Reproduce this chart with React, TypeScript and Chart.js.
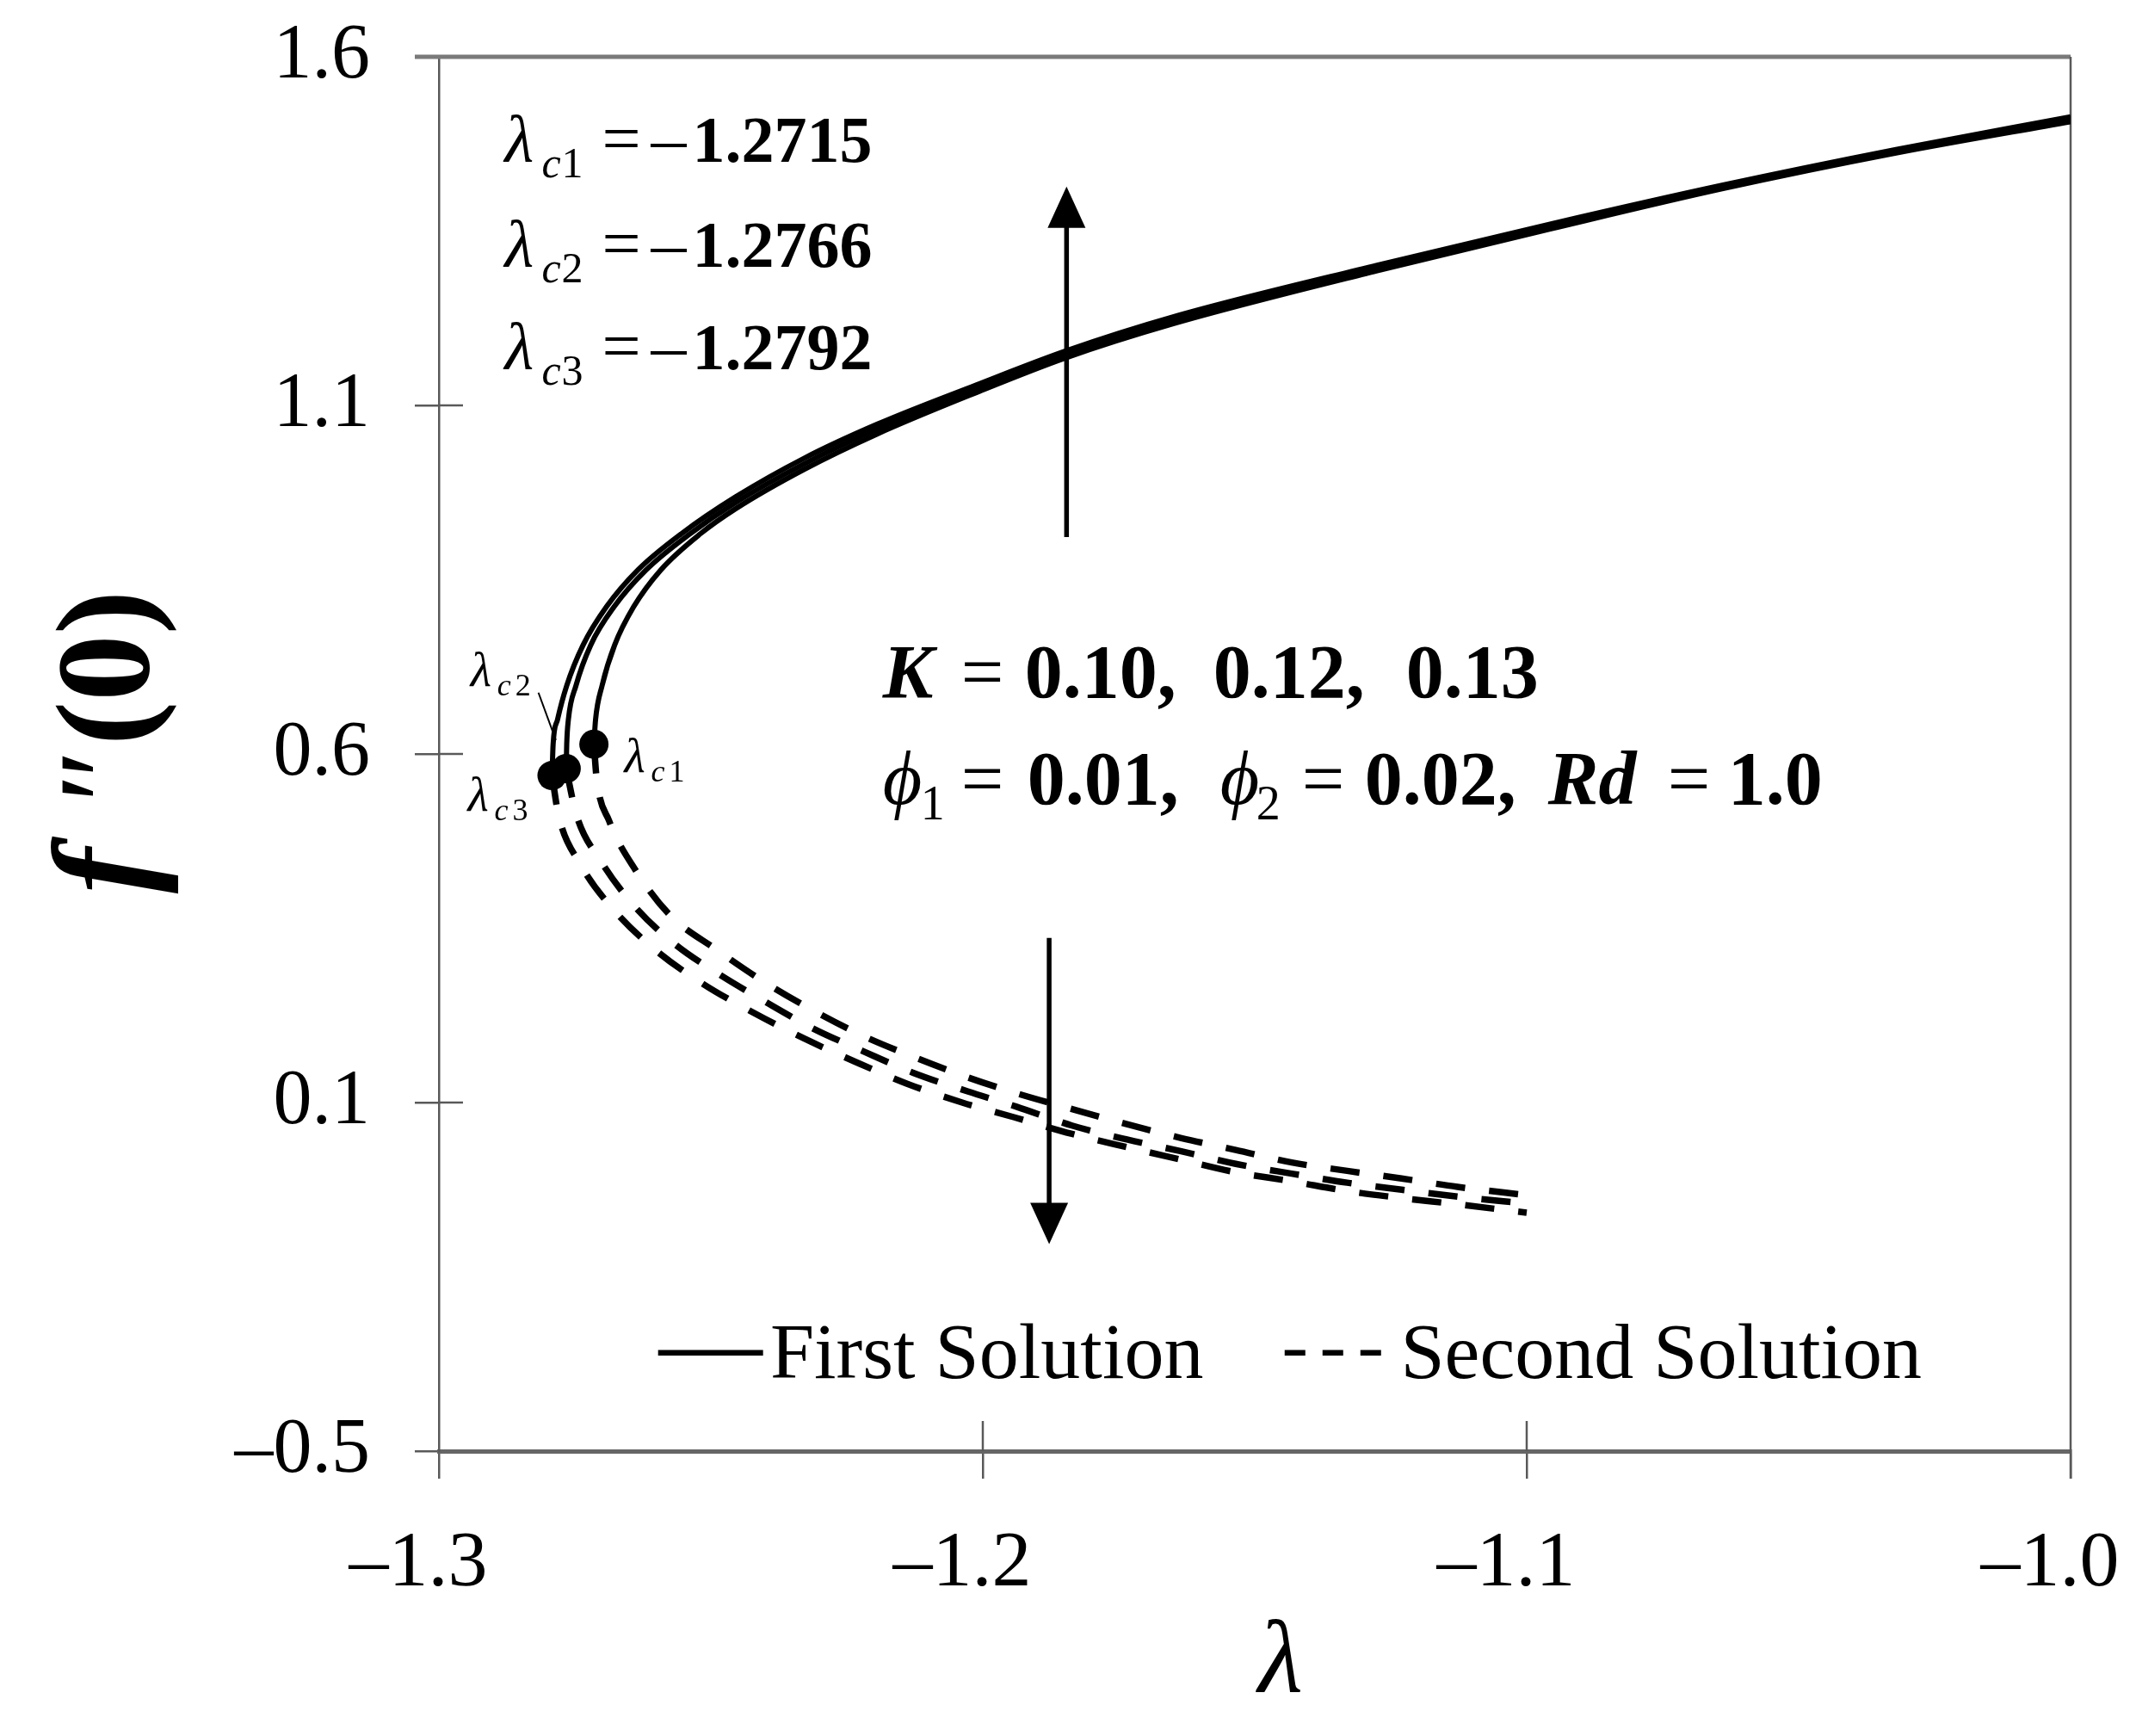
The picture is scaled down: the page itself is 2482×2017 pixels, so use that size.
import { useEffect, useRef } from 'react'
import { Chart, registerables } from 'chart.js'

Chart.register(...registerables)

const SERIF = "'Liberation Serif', 'Times New Roman', serif"

// critical points
const LAMBDA_C = [-1.2715, -1.2766, -1.2792]
const F_C = [0.614, 0.579, 0.569]
const K_VALUES = ['0.10', '0.12', '0.13']

// first solution (upper branch)
const first1Lambda = [-1.2715, -1.2712, -1.27, -1.2677, -1.2642, -1.2592, -1.2519, -1.2454, -1.2329, -1.2194, -1.2013, -1.1848, -1.165, -1.1275, -1.0957, -1.0639, -1.0321, -1.0]
const first1F = [0.614, 0.649, 0.698, 0.756, 0.811, 0.864, 0.916, 0.952, 1.008, 1.059, 1.118, 1.168, 1.217, 1.293, 1.353, 1.411, 1.462, 1.507]
const first2Lambda = [-1.2766, -1.2765, -1.2762, -1.2748, -1.2721, -1.2678, -1.2619, -1.2538, -1.2454, -1.2329, -1.2194, -1.2013, -1.1848, -1.165, -1.1275, -1.0957, -1.0639, -1.0321, -1.0]
const first2F = [0.579, 0.614, 0.649, 0.698, 0.756, 0.811, 0.864, 0.916, 0.961, 1.016, 1.066, 1.123, 1.172, 1.222, 1.297, 1.357, 1.414, 1.465, 1.512]
const first3Lambda = [-1.2792, -1.279, -1.2782, -1.2765, -1.2735, -1.2692, -1.2634, -1.2554, -1.2454, -1.2329, -1.2194, -1.2013, -1.1848, -1.165, -1.1275, -1.0957, -1.0639, -1.0321, -1.0]
const first3F = [0.569, 0.614, 0.649, 0.698, 0.756, 0.811, 0.864, 0.916, 0.969, 1.024, 1.073, 1.129, 1.178, 1.227, 1.301, 1.36, 1.416, 1.467, 1.514]

// second solution (lower branch)
const second1Lambda = [-1.2715, -1.271, -1.2687, -1.2639, -1.2574, -1.2489, -1.2404, -1.2314, -1.2221, -1.2129, -1.2031, -1.1941, -1.1833, -1.1735, -1.1635, -1.1535, -1.1432, -1.133, -1.123, -1.1127, -1.1]
const second1F = [0.614, 0.565, 0.504, 0.434, 0.368, 0.319, 0.274, 0.233, 0.196, 0.166, 0.137, 0.114, 0.09, 0.069, 0.049, 0.032, 0.014, 0.002, -0.009, -0.021, -0.033]
const second2Lambda = [-1.2766, -1.2747, -1.2702, -1.2642, -1.2569, -1.2489, -1.2401, -1.2314, -1.2221, -1.2129, -1.2028, -1.1938, -1.1836, -1.1735, -1.1635, -1.1535, -1.1432, -1.133, -1.123, -1.1127, -1.1]
const second2F = [0.579, 0.512, 0.446, 0.383, 0.329, 0.286, 0.245, 0.207, 0.174, 0.143, 0.116, 0.094, 0.067, 0.047, 0.03, 0.012, -0.002, -0.015, -0.025, -0.035, -0.045]
const second3Lambda = [-1.2792, -1.278, -1.274, -1.2677, -1.2599, -1.2514, -1.2422, -1.2329, -1.2236, -1.2139, -1.2038, -1.1943, -1.1836, -1.1735, -1.1635, -1.1535, -1.1432, -1.133, -1.123, -1.1127, -1.1]
const second3F = [0.569, 0.512, 0.442, 0.375, 0.317, 0.27, 0.229, 0.192, 0.159, 0.127, 0.1, 0.079, 0.055, 0.036, 0.018, 0.0, -0.013, -0.027, -0.037, -0.046, -0.058]

const X_TICKS = [-1.3, -1.2, -1.1, -1.0]
const X_LABELS = ['–1.3', '–1.2', '–1.1', '–1.0']
const Y_TICKS = [-0.4, 0.1, 0.6, 1.1, 1.6]
const Y_LABELS = ['–0.5', '0.1', '0.6', '1.1', '1.6']

const pts = (l: number[], f: number[]) => l.map((x, i) => ({ x, y: f[i] }))
const font = (style: string, size: number) => `${style} ${size}px ${SERIF}`
const labelFor = (ticks: number[], labels: string[], v: number) =>
  labels[ticks.findIndex(t => Math.abs(t - v) < 1e-6)] ?? ''

type Part = { t: string; f: string; dx: number; dy?: number }
function drawParts(ctx: CanvasRenderingContext2D, x: number, y: number, parts: Part[]) {
  parts.forEach(p => {
    ctx.font = p.f
    ctx.fillText(p.t, x + p.dx, y + (p.dy || 0))
  })
}

function arrow(ctx: CanvasRenderingContext2D, x: number, y0: number, y1: number) {
  const dir = Math.sign(y1 - y0)
  ctx.beginPath()
  ctx.moveTo(x, y0)
  ctx.lineTo(x, y1 - dir * 40)
  ctx.stroke()
  ctx.beginPath()
  ctx.moveTo(x, y1)
  ctx.lineTo(x - 22, y1 - dir * 48)
  ctx.lineTo(x + 22, y1 - dir * 48)
  ctx.closePath()
  ctx.fill()
}

const framePlugin = {
  id: 'frame',
  beforeDatasetsDraw(chart: any) {
    const { ctx, chartArea: a, scales } = chart
    const line = (x0: number, y0: number, x1: number, y1: number) => {
      ctx.beginPath(); ctx.moveTo(x0, y0); ctx.lineTo(x1, y1); ctx.stroke()
    }
    ctx.save()
    ctx.strokeStyle = '#7a7a7a'
    ctx.lineWidth = 5
    line(a.left - 28, a.top, a.right, a.top)
    ctx.strokeStyle = '#595959'
    ctx.lineWidth = 2.5
    line(a.right, a.top, a.right, a.bottom + 32)
    Y_TICKS.slice(1, -1).forEach(v => {
      const py = scales.y.getPixelForValue(v)
      line(a.left, py, a.left + 28, py)
    })
    X_TICKS.slice(1, -1).forEach(l => {
      const px = scales.x.getPixelForValue(l)
      line(px, a.bottom, px, a.bottom - 35)
    })
    ctx.restore()
  }
}

const annotatePlugin = {
  id: 'annotate',
  afterDatasetsDraw(chart: any) {
    const { ctx, scales, chartArea: a } = chart
    const px = (l: number) => scales.x.getPixelForValue(l)
    const py = (v: number) => scales.y.getPixelForValue(v)
    ctx.save()
    ctx.fillStyle = '#000'
    ctx.strokeStyle = '#000'
    ctx.textBaseline = 'alphabetic'
    ctx.textAlign = 'left'

    // y axis title f''(0)
    ctx.save()
    ctx.translate(124, (a.top + a.bottom) / 2 - 8)
    ctx.rotate(-Math.PI / 2)
    ctx.textBaseline = 'middle'
    const tParts: Part[] = [
      { t: 'f', f: font('italic bold', 160), dx: 0 },
      { t: '″', f: font('italic', 150), dx: 96 },
      { t: '(0)', f: font('bold', 155), dx: 172 }
    ]
    ctx.font = tParts[2].f
    const total = 172 + ctx.measureText('(0)').width
    drawParts(ctx, -total / 2 + 6, 0, tParts)
    ctx.restore()

    // critical values block
    const lcBase = [1.4496, 1.299, 1.152]
    LAMBDA_C.forEach((lc, i) => {
      drawParts(ctx, px(-1.2879), py(lcBase[i]), [
        { t: 'λ', f: font('italic', 78), dx: 0 },
        { t: 'c', f: font('italic', 50), dx: 43, dy: 18 },
        { t: String(i + 1), f: font('normal', 50), dx: 66, dy: 18 },
        { t: '=', f: font('normal', 80), dx: 113 },
        { t: '–', f: font('normal', 82), dx: 170 },
        { t: Math.abs(lc).toFixed(4), f: font('bold', 76), dx: 218 }
      ])
    })

    // parameters
    drawParts(ctx, px(-1.2184), py(0.682), [
      { t: 'K', f: font('bold italic', 88), dx: 0 },
      { t: '=', f: font('normal', 88), dx: 91 },
      { t: K_VALUES[0] + ',', f: font('bold', 88), dx: 165 },
      { t: K_VALUES[1] + ',', f: font('bold', 88), dx: 384 },
      { t: K_VALUES[2], f: font('bold', 88), dx: 608 }
    ])
    drawParts(ctx, px(-1.2184), py(0.528), [
      { t: 'ϕ', f: font('italic', 88), dx: 0 },
      { t: '1', f: font('normal', 56), dx: 44, dy: 18 },
      { t: '=', f: font('normal', 88), dx: 91 },
      { t: '0.01,', f: font('bold', 88), dx: 168 },
      { t: 'ϕ', f: font('italic', 88), dx: 392 },
      { t: '2', f: font('normal', 56), dx: 434, dy: 18 },
      { t: '=', f: font('normal', 88), dx: 487 },
      { t: '0.02,', f: font('bold', 88), dx: 560 },
      { t: 'Rd', f: font('bold italic', 88), dx: 773 },
      { t: '=', f: font('normal', 88), dx: 912 },
      { t: '1.0', f: font('bold', 88), dx: 982 }
    ])

    // small labels at the critical points
    const small = (l: number, v: number, n: number) =>
      drawParts(ctx, px(l), py(v), [
        { t: 'λ', f: font('italic', 56), dx: 0 },
        { t: 'c', f: font('italic', 36), dx: 31, dy: 11 },
        { t: String(n), f: font('normal', 36), dx: 52, dy: 11 }
      ])
    small(-1.2942, 0.698, 2)
    small(-1.2659, 0.574, 1)
    small(-1.2947, 0.518, 3)
    ctx.lineWidth = 2
    ctx.beginPath()
    ctx.moveTo(px(-1.2817), py(0.688))
    ctx.lineTo(px(-1.2785), py(0.62))
    ctx.stroke()

    // arrows
    ctx.lineWidth = 5.5
    arrow(ctx, px(-1.1846), py(0.911), py(1.414))
    arrow(ctx, px(-1.1878), py(0.336), py(-0.103))

    // legend
    ctx.lineWidth = 6.5
    ctx.beginPath()
    ctx.moveTo(px(-1.2597), py(-0.259))
    ctx.lineTo(px(-1.2404), py(-0.259))
    ctx.stroke()
    ctx.setLineDash([24, 20])
    ctx.beginPath()
    ctx.moveTo(px(-1.1445), py(-0.259))
    ctx.lineTo(px(-1.124), py(-0.259))
    ctx.stroke()
    ctx.setLineDash([])
    ctx.font = font('normal', 92)
    ctx.fillText('First Solution', px(-1.2391), py(-0.2945))
    ctx.fillText('Second Solution', px(-1.1232), py(-0.2945))
    ctx.restore()
  }
}

export default function App() {
  const canvasRef = useRef<HTMLCanvasElement | null>(null)
  const chartRef = useRef<any>(null)

  useEffect(() => {
    const ctx = canvasRef.current?.getContext('2d')
    if (!ctx) return
    if (chartRef.current) chartRef.current.destroy()

    const solid = (label: string, l: number[], f: number[]) => ({
      label, data: pts(l, f), showLine: true, borderColor: '#000', borderWidth: 6,
      pointRadius: 0, cubicInterpolationMode: 'monotone', order: 1
    })
    const dashed = (label: string, l: number[], f: number[]) => ({
      ...solid(label, l, f), borderWidth: 7.5, borderDash: [34, 28]
    })

    chartRef.current = new Chart(ctx, {
      type: 'scatter',
      data: {
        datasets: [
          {
            label: 'Critical points', data: pts(LAMBDA_C, F_C), showLine: false,
            pointRadius: 17, pointBackgroundColor: '#000', pointBorderWidth: 0, order: 0
          },
          solid('First Solution λc1', first1Lambda, first1F),
          solid('First Solution λc2', first2Lambda, first2F),
          solid('First Solution λc3', first3Lambda, first3F),
          dashed('Second Solution λc1', second1Lambda, second1F),
          dashed('Second Solution λc2', second2Lambda, second2F),
          dashed('Second Solution λc3', second3Lambda, second3F)
        ] as any
      },
      options: {
        animation: false,
        responsive: true,
        maintainAspectRatio: false,
        devicePixelRatio: 1,
        layout: { padding: { top: 58, right: 68, left: 0, bottom: 0 } },
        plugins: { legend: { display: false }, tooltip: { enabled: false } },
        scales: {
          x: {
            type: 'linear', min: -1.3, max: -1.0,
            afterBuildTicks: (s: any) => { s.ticks = X_TICKS.map(value => ({ value })) },
            afterFit: (s: any) => { s.height = 323; s.paddingLeft = 0; s.paddingRight = 0 },
            border: { display: true, color: '#666', width: 5 },
            grid: { drawOnChartArea: false, drawTicks: true, tickLength: 32, color: '#595959', lineWidth: 2.5 },
            ticks: {
              autoSkip: false, maxRotation: 0, padding: 45, labelOffset: -24, color: '#000',
              font: { family: SERIF, size: 92 },
              callback: (v: any) => labelFor(X_TICKS, X_LABELS, Number(v))
            },
            title: {
              display: true, text: '\u2002λ', color: '#000',
              font: { family: SERIF, size: 120, style: 'italic' }, padding: { top: 0, bottom: 3 }
            }
          },
          y: {
            type: 'linear', min: -0.4, max: 1.6,
            afterBuildTicks: (s: any) => { s.ticks = Y_TICKS.map(value => ({ value })) },
            afterFit: (s: any) => { s.width = 502; s.paddingTop = 0; s.paddingBottom = 0 },
            border: { display: true, color: '#595959', width: 2.5 },
            grid: { drawOnChartArea: false, drawTicks: true, tickLength: 28, color: '#595959', lineWidth: 2.5 },
            ticks: {
              autoSkip: false, padding: 52, color: '#000',
              font: { family: SERIF, size: 90 },
              callback: (v: any) => labelFor(Y_TICKS, Y_LABELS, Number(v))
            },
            title: { display: false }
          }
        }
      },
      plugins: [framePlugin, annotatePlugin]
    })

    return () => chartRef.current?.destroy()
  }, [])

  return (
    <div style={{ width: 2466, height: 2001, position: 'relative' }}>
      <canvas ref={canvasRef} />
    </div>
  )
}
